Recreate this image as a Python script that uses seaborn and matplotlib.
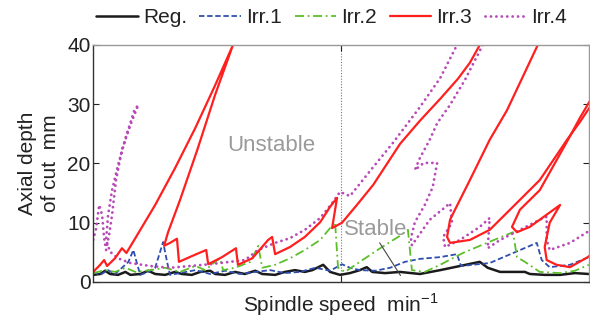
import matplotlib
matplotlib.use("Agg")
import matplotlib.pyplot as plt
from matplotlib.lines import Line2D
import seaborn as sns

# speed axis is unlabeled in the source: normalised 0..100, depth in mm
reg_speed = [0, 1.4, 2.4, 3.4, 5, 6.5, 7.5, 9.5, 11.1, 12.5, 14.5, 16.5, 17.9, 19.9, 21.6, 23.6,
             24.6, 26.6, 28.6, 30.6, 32.7, 34.1, 36.7, 38.7, 40.7, 42.7, 44.2, 46.4, 47.8, 49.8,
             51.8, 53.8, 55.2, 56.3, 58.9, 61.9, 65.9, 70, 74, 78.0, 79.6, 82.1, 84.1, 87.1, 88.1,
             91.1, 94.2, 97.2, 100]
reg_depth = [1.2, 1.35, 1.9, 1.35, 1.2, 1.7, 1.2, 1.35, 1.9, 1.35, 1.2, 1.7, 1.35, 1.2, 1.7, 1.9,
             1.35, 1.2, 1.7, 1.35, 1.9, 1.35, 1.2, 1.7, 2.0, 1.7, 2.0, 2.9, 1.7, 1.2, 1.5, 2.0, 2.5,
             1.7, 1.5, 1.7, 1.35, 2.0, 2.7, 3.4, 2.4, 1.7, 1.7, 1.7, 1.35, 1.2, 1.2, 1.5, 1.35]

irr1_speed = [0, 1.4, 3.0, 4.4, 5.8, 7.1, 8.1, 8.9, 9.5, 11.1, 12.5, 13.5, 14.1, 14.9, 15.5, 17.5,
              20.6, 23.6, 26.6, 29.6, 32.7, 35.7, 38.7, 41.7, 44.8, 47.8, 50.2, 51.8, 53.8, 56.9,
              59.9, 62.9, 65.9, 70.0, 73.4, 74.2, 80.0, 89.5, 90.5, 92.1, 96.2, 100]
irr1_depth = [1.7, 1.2, 2.0, 1.35, 2.4, 3.4, 5.4, 2.9, 1.2, 1.7, 2.4, 5.1, 6.75, 3.4, 1.2, 1.5,
              2.0, 1.35, 1.9, 1.35, 1.7, 2.0, 1.5, 1.7, 2.4, 1.9, 3.0, 2.4, 2.0, 1.9, 2.4, 3.4, 3.9,
              4.2, 4.7, 2.7, 3.2, 6.6, 3.7, 2.5, 2.9, 4.2]

irr2_speed = [0, 2.4, 4.4, 6.5, 8.5, 11.5, 14.5, 17.5, 20.6, 22.6, 24.6, 25.6, 26.2, 28.6, 31.7,
              33.3, 34.1, 36.7, 39.7, 42.7, 45.8, 48.8, 49.4, 50.8, 53.8, 57.9, 61.9, 63.5, 64.3,
              66.9, 70.0, 74.6, 80.0, 84.7, 85.5, 87.1, 90.1, 94.2, 97.2, 100]
irr2_depth = [1.5, 2.0, 1.7, 2.4, 1.7, 2.0, 2.4, 1.7, 2.7, 2.0, 3.4, 4.0, 2.0, 2.4, 3.4, 6.1, 2.4,
              2.9, 4.0, 5.4, 7.1, 10.1, 2.4, 1.7, 3.4, 5.7, 7.8, 8.8, 2.0, 1.7, 2.9, 4.9, 6.8, 8.4,
              4.2, 3.4, 1.7, 1.5, 1.9, 2.9]

# Irr.3 lobes (folded curves, drawn in path order)
irr3_a_speed = [0, 1.4, 2.2, 2.8, 4.4, 5.8, 6.7, 8.5, 12.5, 16.5, 20.6, 24.6, 28.2, 24.6, 21.0,
                17.5, 15.1, 14.3, 15.5, 16.9, 17.3, 20.0, 22.8, 23.2, 26.0, 28.8, 29.2, 32.1, 35.3,
                36.1, 36.7, 39.7, 42.7, 45.8, 47.8, 49.2, 48.2, 50.2, 53.2, 56.5, 61.9, 65.9, 70.0,
                73.6, 76.0, 78.0]
irr3_a_depth = [1.7, 2.9, 3.7, 2.7, 4.0, 5.7, 4.9, 7.4, 13.0, 19.2, 26.0, 33.2, 40.0, 31.6, 22.3,
                13.8, 8.4, 6.1, 6.6, 7.3, 3.4, 4.4, 5.4, 3.0, 4.2, 5.7, 2.9, 4.0, 7.1, 7.6, 4.7, 5.9,
                7.6, 10.1, 12.7, 14.2, 9.1, 10.0, 13.0, 16.4, 23.3, 27.2, 30.9, 34.3, 37.0, 40.0]
irr3_b_speed = [89.7, 83.5, 80.0, 76.0, 73.0, 72.0, 71.4, 72.0, 76.0, 80.0, 84.7, 90.1, 95.6,
                98.2, 100.6]
irr3_b_depth = [40.0, 29.0, 24.0, 17.2, 12.2, 10.5, 7.6, 6.6, 7.1, 8.8, 12.7, 17.2, 24.0, 27.0,
                30.0]
irr3_c_speed = [100.6, 98.2, 95.8, 90.1, 86.1, 84.5, 85.5, 88.1, 94.2, 92.1, 91.1, 91.5, 93.5,
                96.2, 99.6, 100.6]
irr3_c_depth = [31.1, 27.7, 24.0, 15.5, 12.2, 9.3, 8.4, 9.3, 13.0, 10.0, 5.9, 3.7, 2.9, 2.5, 4.1,
                4.7]

irr4_a_speed = [0, 0.6, 1.2, 1.8, 2.2, 2.6, 3.2, 3.8, 4.6, 5.8, 7.5, 9.1, 8.3, 6.7, 5.0, 3.8, 3.0,
                2.6, 3.4, 5.0, 7.5, 11.5, 15.5, 19.6, 23.6, 27.6, 30.6, 33.3, 36.7, 39.7, 42.7,
                45.8, 48.2, 49.8, 51.8, 56.5, 60.5, 65.9, 70.0, 73.4]
irr4_a_depth = [7.1, 9.1, 13.0, 11.3, 7.4, 5.4, 7.9, 11.3, 17.2, 22.3, 26.5, 29.9, 29.0, 24.8,
                19.7, 15.5, 11.3, 7.1, 5.1, 4.0, 3.2, 2.7, 2.4, 2.7, 3.0, 3.4, 3.7, 5.4, 6.6, 7.4,
                8.8, 10.8, 13.3, 15.2, 14.5, 19.4, 23.5, 29.5, 34.4, 40.0]
irr4_b_speed = [78.6, 75.0, 72.0, 69.4, 67.9, 65.9, 64.9, 66.7, 69.4, 68.5, 66.9, 64.9, 64.1,
                64.3, 67.9, 72.0, 72.4, 70.6, 71.0, 74.0, 78.0, 80.0, 79.6, 82.1, 86.1, 90.1, 91.5,
                91.5, 92.1, 96.2, 100.6]
irr4_b_depth = [40.0, 34.1, 29.9, 26.8, 24.0, 20.9, 18.9, 20.1, 20.1, 16.0, 13.0, 10.1, 7.4, 6.2,
                10.5, 13.3, 10.0, 7.6, 5.9, 7.1, 9.3, 10.8, 5.7, 7.1, 8.8, 10.5, 11.0, 7.1, 5.4,
                6.6, 8.9]

series_names = ["Reg.", "Irr.1", "Irr.2", "Irr.3", "Irr.4"]
colors = {"Reg.": "#1a1a1a", "Irr.1": "#2f4fae", "Irr.2": "#5cbf2a",
          "Irr.3": "#ff1f1f", "Irr.4": "#b84ab8"}
styles = {
    "Reg.": dict(linestyle="-", linewidth=1.8),
    "Irr.1": dict(linestyle=(0, (3, 1.5)), linewidth=1.3),
    "Irr.2": dict(linestyle=(0, (5, 2, 1, 2)), linewidth=1.3),
    "Irr.3": dict(linestyle="-", linewidth=1.6),
    "Irr.4": dict(linestyle=(0, (0.05, 1.9)), linewidth=2.0, dash_capstyle="round"),
}

curves = [
    ("Reg.", reg_speed, reg_depth),
    ("Irr.1", irr1_speed, irr1_depth),
    ("Irr.2", irr2_speed, irr2_depth),
    ("Irr.4", irr4_a_speed, irr4_a_depth),
    ("Irr.4", irr4_b_speed, irr4_b_depth),
    ("Irr.3", irr3_a_speed, irr3_a_depth),
    ("Irr.3", irr3_b_speed, irr3_b_depth),
    ("Irr.3", irr3_c_speed, irr3_c_depth),
]

sns.set_style("ticks")
plt.rcParams["font.family"] = ["Liberation Sans", "DejaVu Sans"]
plt.rcParams["mathtext.fontset"] = "custom"
plt.rcParams["mathtext.rm"] = "Liberation Sans"

fig = plt.figure(figsize=(5.9, 3.26), dpi=100)
ax = fig.add_axes([0.158, 0.135, 0.84, 0.727])

for name, xs, ys in curves:
    sns.lineplot(x=xs, y=ys, ax=ax, sort=False, estimator=None, color=colors[name],
                 legend=False, **styles[name])

ax.axvline(50, color="#777777", linestyle=(0, (1, 1.5)), linewidth=0.8, zorder=0)

ax.set_xlim(0, 100)
ax.set_ylim(0, 40)
ax.set_yticks([0, 10, 20, 30, 40])
ax.set_xticks([50])
ax.set_xticklabels([])
ax.tick_params(direction="in", top=True, right=True, length=4, width=0.8,
               labelsize=15, colors="#222222", pad=2)
for side in ["left", "bottom"]:
    ax.spines[side].set_color("#333333")
for side in ["top", "right"]:
    ax.spines[side].set_color("#999999")
for sp in ax.spines.values():
    sp.set_linewidth(1.0)

ax.set_ylabel("Axial depth\nof cut  mm", fontsize=15, color="#222222", labelpad=5,
              linespacing=1.25)
ax.set_xlabel("Spindle speed  min$^{-1}$", fontsize=15, color="#222222", labelpad=5)

ax.text(35.9, 23.0, "Unstable", fontsize=16, color="#9a9a9a", ha="center", va="center")
ax.text(56.9, 8.9, "Stable", fontsize=16, color="#9a9a9a", ha="center", va="center")
ax.annotate("", xy=(62.3, 0.7), xytext=(57.5, 7.0),
            arrowprops=dict(arrowstyle="-", color="#444444", lw=0.8))

handles = [Line2D([0], [0], color=colors[n], **styles[n]) for n in series_names]
fig.legend(handles, series_names, loc="center", bbox_to_anchor=(0.562, 0.945), ncol=5,
           frameon=False, fontsize=15, handlelength=2.0, handletextpad=0.25,
           columnspacing=0.6, labelcolor="#222222")

fig.savefig("out.png", dpi=100)
